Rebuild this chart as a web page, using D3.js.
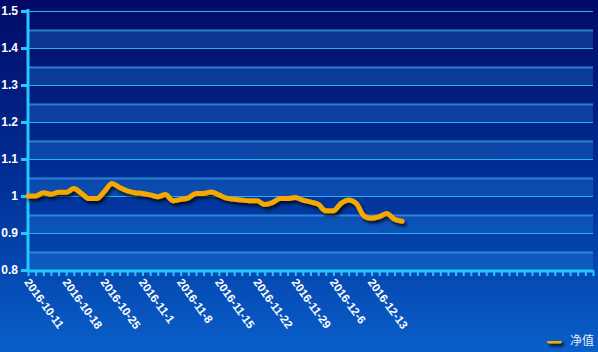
<!DOCTYPE html>
<html><head><meta charset="utf-8">
<script src="https://cdn.jsdelivr.net/npm/d3@7"></script>
<style>
html,body{margin:0;padding:0;}
body{width:598px;height:352px;overflow:hidden;}
</style></head>
<body><svg id="c" width="598" height="352"></svg>
<script>
// ---- data ----
const dates = ["2016-10-11","2016-10-12","2016-10-13","2016-10-14","2016-10-17","2016-10-18","2016-10-19","2016-10-20","2016-10-21",
"2016-10-24","2016-10-25","2016-10-26","2016-10-27","2016-10-28","2016-10-31","2016-11-1","2016-11-2","2016-11-3","2016-11-4",
"2016-11-7","2016-11-8","2016-11-9","2016-11-10","2016-11-11","2016-11-14","2016-11-15","2016-11-16","2016-11-17","2016-11-18",
"2016-11-21","2016-11-22","2016-11-23","2016-11-24","2016-11-25","2016-11-28","2016-11-29","2016-11-30","2016-12-1","2016-12-2",
"2016-12-5","2016-12-6","2016-12-7","2016-12-8","2016-12-9","2016-12-12","2016-12-13","2016-12-14","2016-12-15","2016-12-16","2016-12-19"];
const netValue = [1.000,1.000,1.009,1.005,1.010,1.010,1.020,1.007,0.993,0.993,1.012,1.034,1.023,1.014,1.009,1.007,1.003,0.998,1.004,
0.987,0.991,0.995,1.007,1.007,1.011,1.003,0.994,0.991,0.989,0.987,0.987,0.977,0.982,0.993,0.993,0.996,0.989,0.984,0.978,
0.960,0.960,0.980,0.989,0.980,0.946,0.940,0.944,0.953,0.937,0.932];
const emptySlots = 25;           // axis continues beyond the data with unlabeled categories
const labelEvery = 5;
const yTicks = [0.8,0.9,1.0,1.1,1.2,1.3,1.4,1.5];
const yTickLabels = ["0.8","0.9","1","1.1","1.2","1.3","1.4","1.5"];
const seriesName = "净值";

// ---- layout ----
const svg = d3.select("#c");
const W = 598, H = 352;
const L = 28, R = 593, T = 11, B = 270;

const defs = svg.append("defs");
const bg = defs.append("linearGradient").attr("id","bg").attr("x1",0).attr("y1",0).attr("x2",0).attr("y2",1);
bg.append("stop").attr("offset","0%").attr("stop-color","#020a66");
bg.append("stop").attr("offset","55%").attr("stop-color","#00339a");
bg.append("stop").attr("offset","100%").attr("stop-color","#0a5fca");
const sh = defs.append("filter").attr("id","sh").attr("filterUnits","userSpaceOnUse")
  .attr("x",0).attr("y",0).attr("width",W).attr("height",H);
sh.append("feDropShadow").attr("dx",2).attr("dy",3).attr("stdDeviation",1.6).attr("flood-color","#000").attr("flood-opacity",0.7);

svg.append("rect").attr("width",W).attr("height",H).attr("fill","url(#bg)");

const slots = d3.range(dates.length + emptySlots);
const x = d3.scalePoint().domain(slots).range([L, R]);
const y = d3.scaleLinear().domain([0.8,1.5]).range([B, T]);

// alternating bands
const g = svg.append("g");
yTicks.slice(0,-1).forEach(v => {
  g.append("rect").attr("x",L).attr("width",R-L)
    .attr("y",y(v+0.05)).attr("height",y(v)-y(v+0.05))
    .attr("fill","#2a90e8").attr("fill-opacity",0.28);
  g.append("line").attr("x1",L).attr("x2",R).attr("y1",y(v+0.05)+1).attr("y2",y(v+0.05)+1)
    .attr("stroke","#3a9ae6").attr("stroke-opacity",0.7).attr("stroke-width",2);
});
// gridlines
yTicks.forEach(v => {
  g.append("line").attr("x1",L).attr("x2",R).attr("y1",y(v)+0.5).attr("y2",y(v)+0.5)
    .attr("stroke","#22b4f2").attr("stroke-width",1);
});

// y axis
const yAx = svg.append("g").attr("transform",`translate(${L},0)`)
  .call(d3.axisLeft(y).tickValues(yTicks).tickFormat((d,i)=>yTickLabels[i]).tickSize(7).tickPadding(3));
yAx.select(".domain").remove();
yAx.selectAll(".tick line").attr("stroke","#22c8ff").attr("stroke-width",3);
yAx.selectAll(".tick text").attr("fill","#ffffff").attr("font-family","Liberation Sans, Arial, sans-serif")
  .attr("font-weight","bold").attr("font-size",12);
svg.append("line").attr("x1",L).attr("x2",L).attr("y1",T-2).attr("y2",B+2)
  .attr("stroke","#22c8ff").attr("stroke-width",3);

// x axis
const xAx = svg.append("g").attr("transform",`translate(0,${B})`)
  .call(d3.axisBottom(x).tickSize(6).tickFormat(""));
xAx.select(".domain").remove();
xAx.selectAll(".tick line").attr("stroke","#22c8ff").attr("stroke-width",2);
svg.append("line").attr("x1",L-1).attr("x2",R).attr("y1",B+1).attr("y2",B+1)
  .attr("stroke","#22c8ff").attr("stroke-width",3);
svg.append("g").selectAll("text").data(dates.filter((d,i)=>i%labelEvery===0)).join("text")
  .attr("transform",d=>`translate(${x(dates.indexOf(d))-1},${B+10}) rotate(54)`)
  .attr("dy","0.35em")
  .attr("fill","#ffffff").attr("font-family","Liberation Sans, Arial, sans-serif")
  .attr("font-weight","bold").attr("font-size",11.5)
  .text(d=>d);

// line
const line = d3.line().x((d,i)=>x(i)).y(d=>y(d)).curve(d3.curveMonotoneX);
svg.append("path").datum(netValue).attr("d",line)
  .attr("fill","none").attr("stroke","#f7a800").attr("stroke-width",5)
  .attr("stroke-linejoin","round").attr("stroke-linecap","round")
  .attr("filter","url(#sh)");

// legend
const lg = svg.append("g").attr("transform","translate(547,341)");
lg.append("rect").attr("x",0).attr("y",-2.5).attr("width",15).attr("height",5).attr("rx",2.5)
  .attr("fill","#f7a800").attr("filter","url(#sh)");
lg.append("text").attr("x",23).attr("y",0).attr("dy","0.35em")
  .attr("fill","#e6ecf5").attr("font-family","Noto Sans CJK SC, sans-serif").attr("font-size",12)
  .text(seriesName);
</script></body></html>
